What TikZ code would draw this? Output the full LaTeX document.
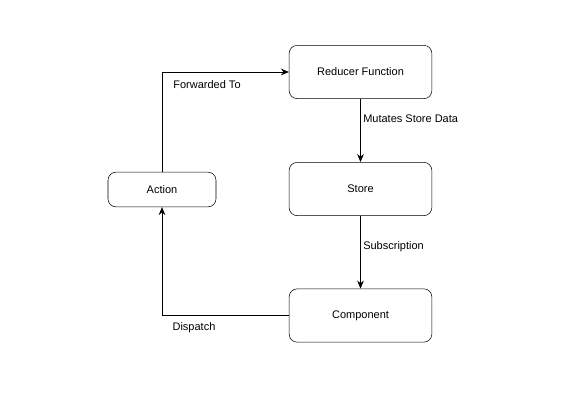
\documentclass[tikz,border=0pt]{standalone}
\usepackage{fontspec}
\setmainfont{Liberation Sans}
\usetikzlibrary{arrows.meta}

\tikzset{
  block/.style={draw, rounded corners=6pt, minimum width=107pt, minimum height=40pt, font=\fontsize{8.25}{10}\selectfont},
  smallblock/.style={block, minimum width=81pt, minimum height=26pt},
  lbl/.style={font=\fontsize{8.25}{10}\selectfont, inner sep=0pt},
  flow/.style={-{Stealth[length=6pt,width=5pt]}, line width=0.6pt}
}

\begin{document}
\begin{tikzpicture}[x=0.75pt,y=-0.75pt]
  \useasboundingbox (0,0) rectangle (570,401);
  \node[block] (reducer) at (360.5,72) {Reducer Function};
  \node[block] (store) at (360.5,189) {Store};
  \node[block] (component) at (360.5,315.5) {Component};
  \node[smallblock] (action) at (162,189.5) {Action};

  \draw[flow] (action.north) |- (reducer.west);
  \draw[flow] (reducer) -- (store);
  \draw[flow] (store) -- (component);
  \draw[flow] (component.west) -| (action.south);

  \node[lbl] (fwd) at (207,85) {Forwarded To};
  \node[lbl, anchor=west] (mut) at (363,119) {Mutates Store Data};
  \node[lbl, anchor=west] (sub) at (363,247) {Subscription};
  \node[lbl] (disp) at (194,328) {Dispatch};
\end{tikzpicture}
\end{document}
